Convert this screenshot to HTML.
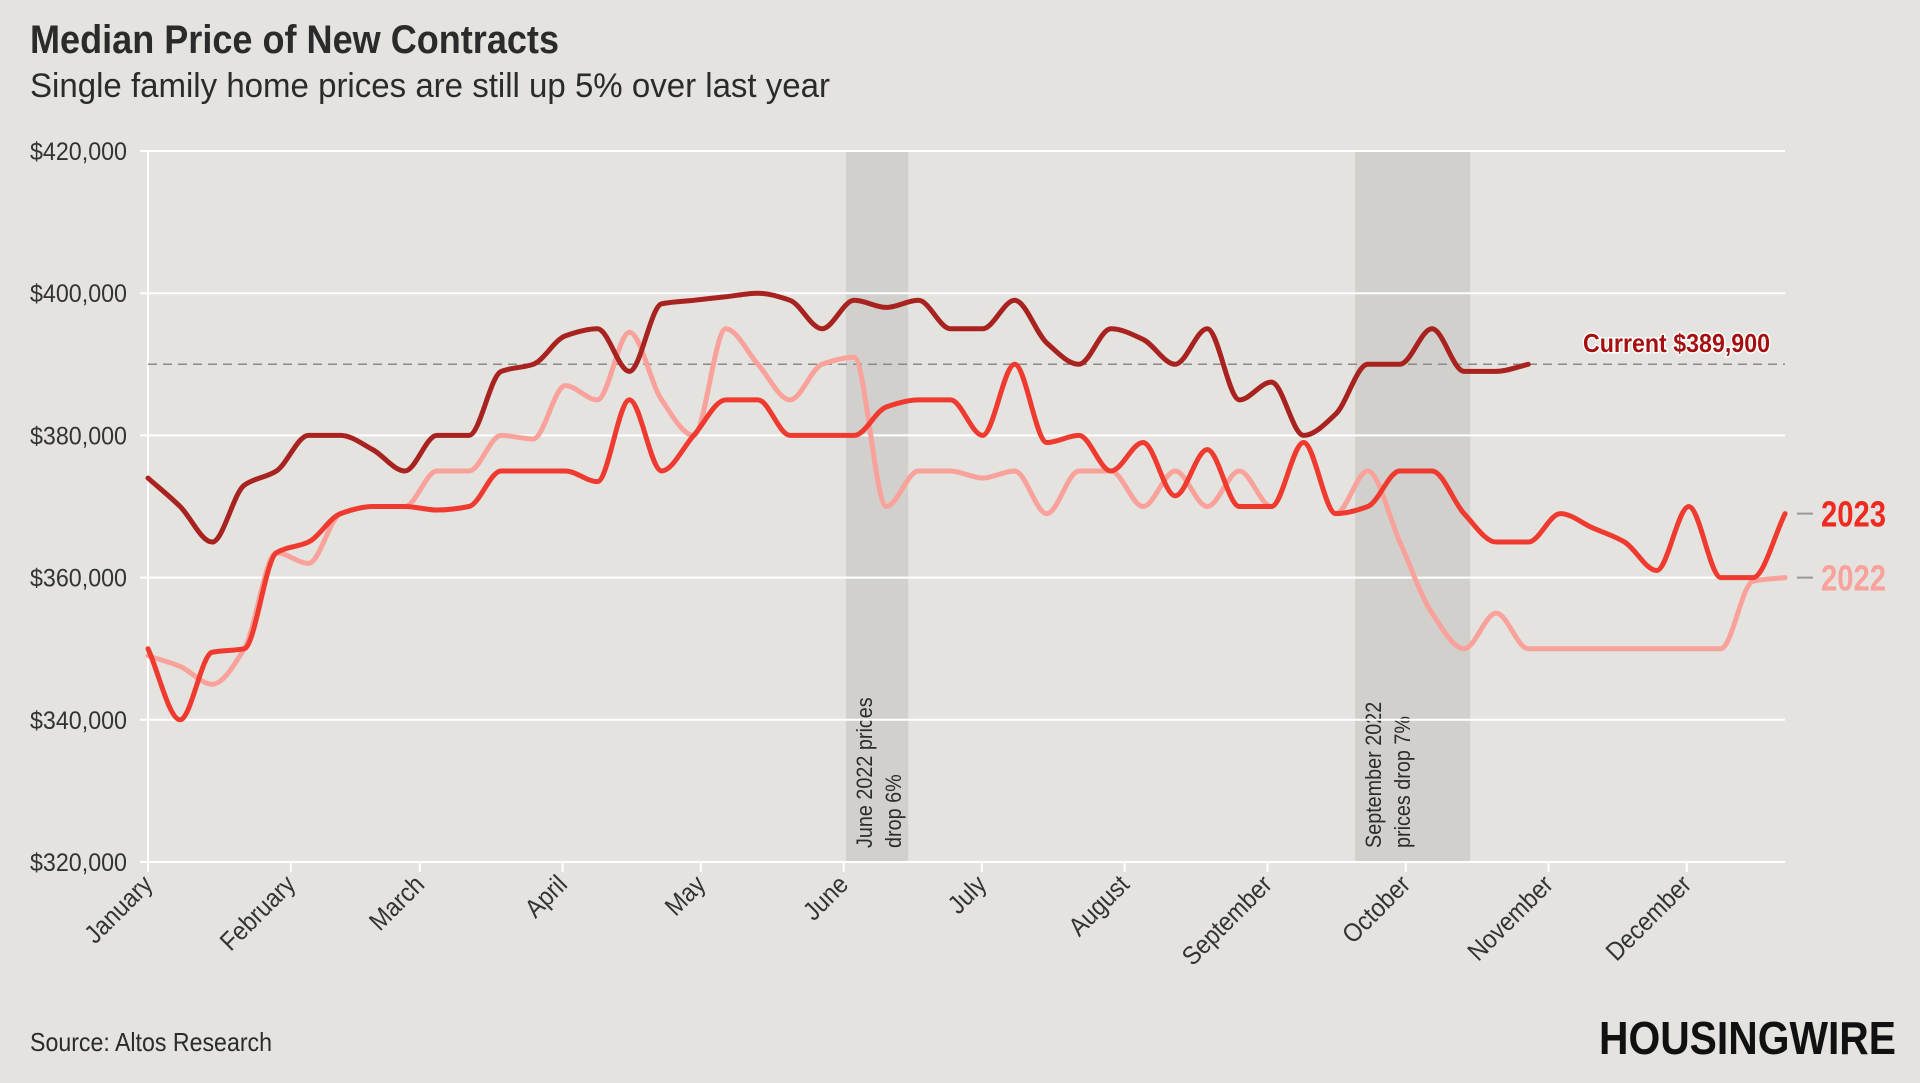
<!DOCTYPE html>
<html><head><meta charset="utf-8">
<style>
html,body{margin:0;padding:0;background:#e4e3df;overflow:hidden;}
svg{display:block;font-family:"Liberation Sans",sans-serif;}
</style></head>
<body>
<svg id="chart" width="1920" height="1083" viewBox="0 0 1920 1083">
<rect width="1920" height="1083" fill="#e4e3df"/>
<text x="30" y="53" font-size="40" font-weight="bold" fill="#2b2b2b" textLength="529" lengthAdjust="spacingAndGlyphs">Median Price of New Contracts</text>
<text x="30" y="97" font-size="34" fill="#2b2b2b" textLength="800" lengthAdjust="spacingAndGlyphs">Single family home prices are still up 5% over last year</text>
<g id="bands"></g>
<g id="grid"></g>
<g id="series"></g>
<g id="labels"></g>
<text x="30" y="1051" font-size="26" fill="#2b2b2b" textLength="242" lengthAdjust="spacingAndGlyphs">Source: Altos Research</text>
<text x="1599" y="1054" font-size="46" font-weight="900" fill="#111" textLength="297" lengthAdjust="spacingAndGlyphs">HOUSINGWIRE</text>
</svg>
<script>
const months = ["January","February","March","April","May","June","July","August","September","October","November","December"];
const monthStartDays = [0,31,59,90,120,151,181,212,243,273,304,334];
const yTicks = [320000,340000,360000,380000,400000,420000];
const yTickLabels = ["$320,000","$340,000","$360,000","$380,000","$400,000","$420,000"];
const series2022 = [349,347.5,345,350,363.5,362,369,370,370,375,375,380,379.5,387,385,394.5,385,380,395,390,385,390,391,370,375,375,374,375,369,375,375,370,375,370,375,370,379,369,375,365,355,350,355,350,350,350,350,350,350,350,359.5,360];
const series2023 = [350,340,349.5,350,363.5,365,369,370,370,369.5,370,375,375,375,373.5,385,375,380,385,385,380,380,380,384,385,385,380,390,379,380,375,379,371.5,378,370,370,379,369,370,375,375,369,365,365,369,367,365,361,370,360,360,369];
const series2024 = [374,370,365,373,375,380,380,378,375,380,380,389,390,394,395,389,398.5,399,399.5,400,399,395,399,398,399,395,395,399,393,390,395,393.5,390,395,385,387.5,380,383,390,390,395,389,389,390];
const currentValue = 389900;
const bandsData = [{start:151.5,end:165,l1:"June 2022 prices",l2:"drop 6%"},{start:262,end:287,l1:"September 2022",l2:"prices drop 7%"}];

const NS="http://www.w3.org/2000/svg";
const X0=148, X1=1785, Y0=862, Y1=151;
const PXDAY=4.607;
const xDay = d => X0 + d*PXDAY;
const xWeek = w => X0 + w*32.1;
const yVal = v => Y0 - (v-320000)/(100000)*(Y0-Y1);
function el(tag, attrs, parent){const e=document.createElementNS(NS,tag);for(const k in attrs)e.setAttribute(k,attrs[k]);parent.appendChild(e);return e;}

const bands=document.getElementById('bands');
bandsData.forEach((b,i)=>{
  const r=el('rect',{x:xDay(b.start),y:Y1,width:xDay(b.end)-xDay(b.start),height:Y0-Y1,fill:'#d1d0cc'},bands);
  
  
  const cx=xDay(b.start)+26;
  const t=el('text',{transform:`translate(${cx},848) rotate(-90) scale(0.9,1)`,'font-size':22,fill:'#2b2b2b'},bands);
  
  
  const s1=el('tspan',{x:0,y:0},t); s1.textContent=b.l1;
  const s2=el('tspan',{x:0,y:29},t); s2.textContent=b.l2;
});

const grid=document.getElementById('grid');
yTicks.forEach((v,i)=>{
  const l=el('line',{x1:X0-8,x2:X1,y1:yVal(v),y2:yVal(v),stroke:'#ffffff','stroke-width':2},grid);
  
  
  const t=el('text',{x:30,y:yVal(v)+9,'font-size':25,fill:'#333',textLength:97,lengthAdjust:'spacingAndGlyphs'},grid);
  
  
  t.textContent=yTickLabels[i];
});
const ax=el('line',{x1:X0,x2:X0,y1:Y1,y2:Y0+8,stroke:'#ffffff','stroke-width':2},grid);


months.forEach((m,i)=>{
  const x=xDay(monthStartDays[i]);
  const tk=el('line',{x1:x,x2:x,y1:Y0,y2:Y0+10,stroke:'#ffffff','stroke-width':2},grid);
  
  
  const t=el('text',{transform:`translate(${x+6},${Y0+24}) rotate(-45) scale(0.9,1)`,'text-anchor':'end','font-size':26,fill:'#333'},grid);
  
  
  t.textContent=m;
});
const dl=el('line',{x1:X0,x2:X1,y1:yVal(390000),y2:yVal(390000),stroke:'#8a8a8a','stroke-width':1.5,'stroke-dasharray':'9 6'},grid);



function monotonePath(pts){
  const n=pts.length; if(n<2) return '';
  const dx=[],s=[],m=[];
  for(let i=0;i<n-1;i++){dx[i]=pts[i+1][0]-pts[i][0];s[i]=(pts[i+1][1]-pts[i][1])/dx[i];}
  m[0]=s[0]; m[n-1]=s[n-2];
  for(let i=1;i<n-1;i++){ if(s[i-1]*s[i]<=0) m[i]=0; else { const h0=dx[i-1],h1=dx[i]; m[i]=3*(h0+h1)/((2*h1+h0)/s[i-1]+(h1+2*h0)/s[i]); } }
  let d=`M${pts[0][0]},${pts[0][1]}`;
  for(let i=0;i<n-1;i++){const h=dx[i]/3;d+=`C${pts[i][0]+h},${pts[i][1]+m[i]*h} ${pts[i+1][0]-h},${pts[i+1][1]-m[i+1]*h} ${pts[i+1][0]},${pts[i+1][1]}`;}
  return d;
}
const sg=document.getElementById('series');
[[series2022,'#f9a19b','line-2022'],[series2023,'#ef3a2f','line-2023'],[series2024,'#a8221f','line-2024']].forEach(([arr,c,name])=>{
  const pts=arr.map((v,i)=>[xWeek(i),yVal(v*1000)]);
  const p=el('path',{d:monotonePath(pts),fill:'none',stroke:c,'stroke-width':5,'stroke-linejoin':'round','stroke-linecap':'round'},sg);
  
  
});

const lg=document.getElementById('labels');
const cl=el('text',{x:1583,y:yVal(currentValue)-13,'font-size':26,'font-weight':'bold',fill:'#a50f0f',stroke:'#ffffff','stroke-width':3,'paint-order':'stroke',textLength:187,lengthAdjust:'spacingAndGlyphs'},lg);


cl.textContent='Current $389,900';
[[series2023,'#ef2a20','2023','label-2023'],[series2022,'#f9a19b','2022','label-2022']].forEach(([arr,c,txt,name])=>{
  const y=yVal(arr[arr.length-1]*1000);
  const tl=el('line',{x1:1797,x2:1813,y1:y,y2:y,stroke:'#999','stroke-width':2},lg);
  
  
  const t=el('text',{x:1821,y:y+13,'font-size':36,'font-weight':'bold',fill:c,textLength:65,lengthAdjust:'spacingAndGlyphs'},lg);
  
  
  t.textContent=txt;
});
</script>
</body></html>
